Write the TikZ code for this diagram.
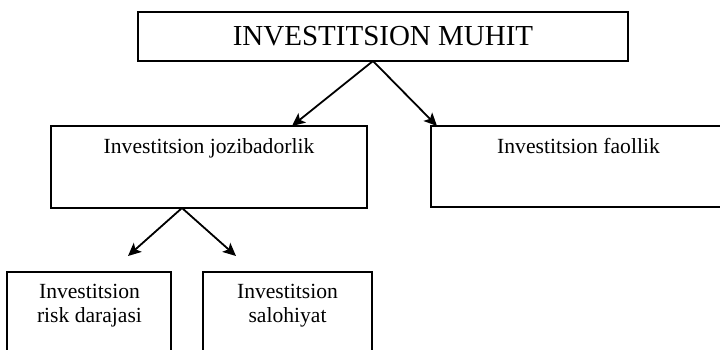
\documentclass[tikz,border=0pt]{standalone}
\usepackage{fontspec}
\setmainfont{Liberation Serif}
\usetikzlibrary{arrows.meta}
\begin{document}
\begin{tikzpicture}[x=1pt,y=-1pt,
  boxst/.style={draw,line width=1.4pt,rectangle,inner sep=0pt},
  txt/.style={inner sep=0pt,anchor=base,font=\fontsize{21.6}{24}\selectfont,align=center},
  arr/.style={line width=1.8pt,-{Stealth[length=13pt,width=12pt,inset=3pt]}}]
\useasboundingbox (0,0) rectangle (720,349);
\clip (0,0) rectangle (720,349);
% top
\node[boxst,minimum width=490pt,minimum height=49pt,font=\fontsize{29}{32}\selectfont] (top) at (383,36.5) {INVESTITSION MUHIT};
% middle
\node[boxst,minimum width=316pt,minimum height=82pt] (m1) at (209,167) {};
\node[txt] (t1) at (209,153) {Investitsion jozibadorlik};
\node[boxst,minimum width=295pt,minimum height=81pt] (m2) at (578.5,166.5) {};
\node[txt] (t2) at (578.5,153) {Investitsion faollik};
% bottom
\node[boxst,minimum width=164pt,minimum height=100pt] (b1) at (89,322) {};
\node[txt] (t3) at (89.5,322) {Investitsion\\risk darajasi};
\node[boxst,minimum width=169pt,minimum height=100pt] (b2) at (287.5,322) {};
\node[txt] (t4) at (287.5,322) {Investitsion\\salohiyat};
% connectors
\coordinate (a1) at (373,61);
\coordinate (e1) at (292,126);
\coordinate (e2) at (437,126);
\draw[arr] (a1) -- (e1);
\draw[arr] (a1) -- (e2);
\coordinate (a2) at (182,208);
\coordinate (e3) at (128,256);
\coordinate (e4) at (236,256);
\draw[arr] (a2) -- (e3);
\draw[arr] (a2) -- (e4);
\end{tikzpicture}
\end{document}
